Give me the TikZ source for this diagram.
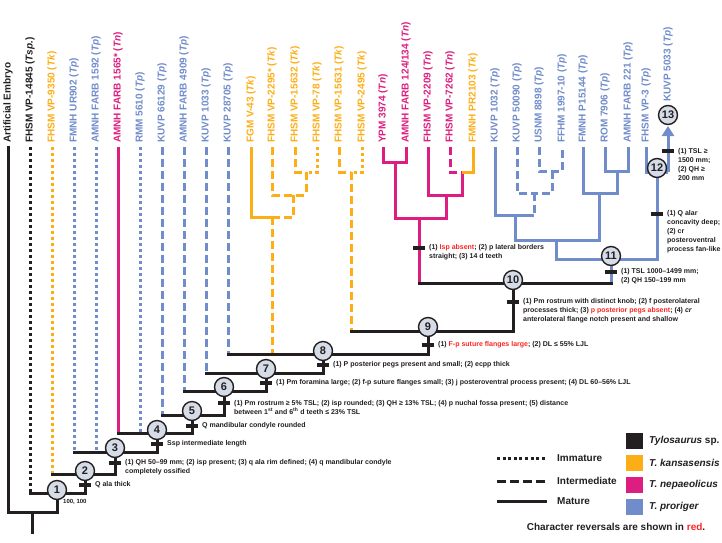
\documentclass[tikz,border=0pt]{standalone}
\usepackage{fontspec}
\setmainfont{Liberation Sans}
\usetikzlibrary{arrows.meta}
\definecolor{tyl}{RGB}{35,31,32}
\definecolor{tk}{RGB}{253,174,23}
\definecolor{tn}{RGB}{221,29,127}
\definecolor{tp}{RGB}{112,140,203}
\definecolor{nfill}{RGB}{213,219,231}
\definecolor{rv}{RGB}{255,35,35}
\begin{document}
\begin{tikzpicture}[x=1pt,y=-1pt,
  br/.style={line width=3pt},
  bb/.style={br,draw=tyl,line cap=rect},
  dotl/.style={dash pattern=on 3pt off 3pt},
  dashl/.style={dash pattern=on 8pt off 4pt},
  cn/.style={circle,draw=tyl,line width=1.4pt,fill=nfill,minimum size=19pt,inner sep=0pt,text=tyl,font=\bfseries\fontsize{11}{11}\selectfont},
  tickbar/.style={fill=tyl,minimum width=12pt,minimum height=4.5pt,inner sep=0pt},
  tax/.style={rotate=90,anchor=west,inner sep=0pt,font=\bfseries\fontsize{10}{12}\selectfont},
  ann/.style={anchor=west,align=left,inner sep=0pt,text=tyl,font=\bfseries\fontsize{7}{9}\selectfont},
  leg/.style={anchor=west,inner sep=0pt,text=tyl,font=\bfseries\fontsize{10}{12}\selectfont},
  swatch/.style={minimum width=17pt,minimum height=16pt,inner sep=0pt}]
\useasboundingbox[fill=white] (0,0) rectangle (722,542);

% tip coordinates
\foreach \i/\x in {0/8,1/30,2/52,3/74,4/96,5/118,6/140,7/162,8/184,9/206,10/228,
  11/251,12/272,13/295,14/317,15/339,16/362,17/383,18/406,19/428,20/450,21/473,
  22/495,23/517,24/539,25/562,26/583,27/605,28/628,29/646,30/668}
  \coordinate (t\i) at (\x,147);

% junctions of the backbone
\coordinate (h0) at (32,512);
\coordinate (rb) at (32,532);
\coordinate (h1) at (57,493);
\coordinate (h2) at (85,474);
\coordinate (h3) at (115,452);
\coordinate (h4) at (157,433);
\coordinate (h5) at (192,415);
\coordinate (h6) at (224,391);
\coordinate (h7) at (266,373);
\coordinate (h8) at (323,354);
\coordinate (h9) at (428,331);
\coordinate (h10) at (513,283);
\coordinate (h11) at (611,259);
\coordinate (h12) at (657,172);
% clade junctions
\coordinate (a1) at (306,172);
\coordinate (a2) at (293,195);
\coordinate (a3) at (272,217);
\coordinate (b1) at (351,172);
\coordinate (m1) at (395,162);
\coordinate (m2) at (462,172);
\coordinate (m3) at (446,195);
\coordinate (m4) at (419,218);
\coordinate (p1) at (552,171);
\coordinate (p2) at (534,193);
\coordinate (p3) at (515,215);
\coordinate (p4) at (617,171);
\coordinate (p5) at (599,193);
\coordinate (p6) at (556,240);
\coordinate (ar) at (668,126);

% taxon branches
\draw[br,tyl,dotl] (t1) -- (t1 |- h1);
\draw[br,tk,dotl] (t2) -- (t2 |- h2);
\draw[br,tp,dotl] (t3) -- (t3 |- h3);
\draw[br,tp,dotl] (t4) -- (t4 |- h3);
\draw[br,tn] (t5) -- (t5 |- h4);
\draw[br,tp,dotl] (t6) -- (t6 |- h4);
\draw[br,tp,dashl] (t7) -- (t7 |- h5);
\draw[br,tp,dashl] (t8) -- (t8 |- h6);
\draw[br,tp,dashl] (t9) -- (t9 |- h7);
\draw[br,tp,dashl] (t10) -- (t10 |- h8);

% T. kansasensis clade A
\draw[br,tk,dashl] (t13) |- (a1);
\draw[br,tk,dotl] (t14) |- (a1);
\draw[br,tk,dashl] (a1) -- (a1 |- a2);
\draw[br,tk,dashl] (t12) |- (a1 |- a2);
\draw[br,tk,dashl] (a2) -- (a2 |- a3);
\draw[br,tk] (t11) |- (a3);
\draw[br,tk,dashl] (a3) -- (a2 |- a3);
\draw[br,tk,dashl] (a3) -- (a3 |- h8);
% T. kansasensis clade B
\draw[br,tk,dashl] (t15) |- (b1);
\draw[br,tk,dotl] (t16) |- (b1);
\draw[br,tk,dashl] (b1) -- (b1 |- h9);

% T. nepaeolicus clade
\draw[br,tn] (t17) |- (m1) -| (t18);
\draw[br,tn] (m1) |- (m4) -| (m3);
\draw[br,tn] (t19) |- (m2 |- m3) -- (m2);
\draw[br,tn,dashl] (t20) |- (m2);
\draw[br,tk] (t21) |- (m2);
\draw[br,tn] (m4) -- (m4 |- h10);

% T. proriger clade
\draw[br,tp,dashl] (t24) |- (p1) -| (t25);
\draw[br,tp,dashl] (p1) |- (p2);
\draw[br,tp,dashl] (t23) |- (p2);
\draw[br,tp,dashl] (p2) -- (p2 |- p3);
\draw[br,tp] (t22) |- (p2 |- p3);
\draw[br,tp] (p3) |- (p6) -| (p5);
\draw[br,tp] (t26) |- (p4 |- p5) -- (p4);
\draw[br,tp] (t27) |- (p4) -| (t28);
\draw[br,tp] (p6) |- (h11) -| (h12);
\draw[br,tp] (h11 |- h10) -- (h11);
\draw[br,tp] (t29) |- (h12) -- (t30 |- h12);
\draw[br,tp,-{Triangle[width=12pt,length=10pt]}] (t30 |- h12) -- (ar);

% backbone
\draw[bb] (rb) -- (h0);
\draw[bb] (t0) |- (h0) -| (h1);
\draw[bb] (t1 |- h1) -| (h2);
\draw[bb] (t2 |- h2) -| (h3);
\draw[bb] (t3 |- h3) -| (h4);
\draw[bb] (t5 |- h4) -| (h5);
\draw[bb] (t7 |- h5) -| (h6);
\draw[bb] (t8 |- h6) -| (h7);
\draw[bb] (t9 |- h7) -| (h8);
\draw[bb] (t10 |- h8) -| (h9);
\draw[bb] (b1 |- h9) -| (h10);
\draw[bb] (m4 |- h10) -- (h11 |- h10);

% character ticks
\node[tickbar] (k1) at (85,485) {};
\node[tickbar] (k2) at (115,463) {};
\node[tickbar] (k3) at (157,444) {};
\node[tickbar] (k4) at (192,426) {};
\node[tickbar] (k5) at (224,403) {};
\node[tickbar] (k6) at (266,383) {};
\node[tickbar] (k7) at (323,365) {};
\node[tickbar] (k8) at (428,345) {};
\node[tickbar] (k9) at (513,302) {};
\node[tickbar] (kn) at (419,248) {};
\node[tickbar] (k10) at (611,272) {};
\node[tickbar] (k11) at (657,214) {};
\node[tickbar] (k12) at (668,151) {};

% numbered nodes
\node[cn] (n1) at (57,490) {1};
\node[cn] (n2) at (85,471) {2};
\node[cn] (n3) at (115,448) {3};
\node[cn] (n4) at (157,430) {4};
\node[cn] (n5) at (192,411) {5};
\node[cn] (n6) at (224,387) {6};
\node[cn] (n7) at (266,369) {7};
\node[cn] (n8) at (323,351) {8};
\node[cn] (n9) at (428,327) {9};
\node[cn] (n10) at (513,280) {10};
\node[cn] (n11) at (611,256) {11};
\node[cn] (n12) at (657,168) {12};
\node[cn] (n13) at (668,115) {13};
\node[anchor=west,inner sep=0pt,text=tyl,font=\bfseries\fontsize{6}{7}\selectfont] (bs1) at (63,502) {100, 100};

% annotations
\node[ann] (c1) at (95,485) {Q ala thick};
\node[ann] (c2) at (125,467.5) {(1) QH 50–99 mm; (2) isp present; (3) q ala rim defined; (4) q mandibular condyle\\completely ossified};
\node[ann] (c3) at (167,444) {Ssp intermediate length};
\node[ann] (c4) at (202,426) {Q mandibular condyle rounded};
\node[ann] (c5) at (234,407.5) {(1) Pm rostrum ≥ 5\% TSL; (2) isp rounded; (3) QH ≥ 13\% TSL; (4) p nuchal fossa present; (5) distance\\between 1\textsuperscript{st} and 6\textsuperscript{th} d teeth ≤ 23\% TSL};
\node[ann] (c6) at (276,383) {(1) Pm foramina large; (2) f-p suture flanges small; (3) j posteroventral process present; (4) DL 60–56\% LJL};
\node[ann] (c7) at (333,365) {(1) P posterior pegs present and small; (2) ecpp thick};
\node[ann] (c8) at (438,345) {(1) \textcolor{rv}{F-p suture flanges large}; (2) DL ≤ 55\% LJL};
\node[ann] (c9) at (523,311) {(1) Pm rostrum with distinct knob; (2) f posterolateral\\processes thick; (3) \textcolor{rv}{p posterior pegs absent}; (4) \textit{cr}\\anterolateral flange notch present and shallow};
\node[ann] (cn) at (429,252.5) {(1) \textcolor{rv}{Isp absent}; (2) p lateral borders\\straight; (3) 14 d teeth};
\node[ann] (c10) at (621,276.5) {(1) TSL 1000–1499 mm;\\(2) QH 150–199 mm};
\node[ann] (c11) at (667,232) {(1) Q alar\\concavity deep;\\(2) cr\\posteroventral\\process fan-like};
\node[ann] (c12) at (678,164.5) {(1) TSL ≥\\1500 mm;\\(2) QH ≥\\200 mm};

% taxon labels
\node[tax,text=tyl] (l0) at (8,143) {Artificial Embryo};
\node[tax,text=tyl] (l1) at (30,143) {FHSM VP-14845 (\textit{Tsp.})};
\node[tax,text=tk] (l2) at (52,143) {FHSM VP-9350 (\textit{Tk})};
\node[tax,text=tp] (l3) at (74,143) {FMNH UR902 (\textit{Tp})};
\node[tax,text=tp] (l4) at (96,143) {AMNH FARB 1592 (\textit{Tp})};
\node[tax,text=tn] (l5) at (118,143) {AMNH FARB 1565* (\textit{Tn})};
\node[tax,text=tp] (l6) at (140,143) {RMM 5610 (\textit{Tp})};
\node[tax,text=tp] (l7) at (162,143) {KUVP 66129 (\textit{Tp})};
\node[tax,text=tp] (l8) at (184,143) {AMNH FARB 4909 (\textit{Tp})};
\node[tax,text=tp] (l9) at (206,143) {KUVP 1033 (\textit{Tp})};
\node[tax,text=tp] (l10) at (228,143) {KUVP 28705 (\textit{Tp})};
\node[tax,text=tk] (l11) at (251,143) {FGM V-43 (\textit{Tk})};
\node[tax,text=tk] (l12) at (272,143) {FHSM VP-2295* (\textit{Tk})};
\node[tax,text=tk] (l13) at (295,143) {FHSM VP-15632 (\textit{Tk})};
\node[tax,text=tk] (l14) at (317,143) {FHSM VP-78 (\textit{Tk})};
\node[tax,text=tk] (l15) at (339,143) {FHSM VP-15631 (\textit{Tk})};
\node[tax,text=tk] (l16) at (362,143) {FHSM VP-2495 (\textit{Tk})};
\node[tax,text=tn] (l17) at (383,143) {YPM 3974 (\textit{Tn})};
\node[tax,text=tn] (l18) at (406,143) {AMNH FARB 124/134 (\textit{Tn})};
\node[tax,text=tn] (l19) at (428,143) {FHSM VP-2209 (\textit{Tn})};
\node[tax,text=tn] (l20) at (450,143) {FHSM VP-7262 (\textit{Tn})};
\node[tax,text=tk] (l21) at (473,143) {FMNH PR2103 (\textit{Tk})};
\node[tax,text=tp] (l22) at (495,143) {KUVP 1032 (\textit{Tp})};
\node[tax,text=tp] (l23) at (517,143) {KUVP 50090 (\textit{Tp})};
\node[tax,text=tp] (l24) at (539,143) {USNM 8898 (\textit{Tp})};
\node[tax,text=tp] (l25) at (562,143) {FFHM 1997-10 (\textit{Tp})};
\node[tax,text=tp] (l26) at (583,143) {FMNH P15144 (\textit{Tp})};
\node[tax,text=tp] (l27) at (605,143) {ROM 7906 (\textit{Tp})};
\node[tax,text=tp] (l28) at (628,143) {AMNH FARB 221 (\textit{Tp})};
\node[tax,text=tp] (l29) at (646,143) {FHSM VP-3 (\textit{Tp})};
\node[tax,text=tp] (l30) at (668,102) {KUVP 5033 (\textit{Tp})};

% legend
\coordinate (g1a) at (497,458); \coordinate (g1b) at (547,458);
\coordinate (g2a) at (497,481); \coordinate (g2b) at (547,481);
\coordinate (g3a) at (497,501); \coordinate (g3b) at (547,501);
\draw[br,tyl,dash pattern=on 3pt off 2.6pt] (g1a) -- (g1b);
\draw[br,tyl,dash pattern=on 9pt off 4pt] (g2a) -- (g2b);
\draw[br,tyl] (g3a) -- (g3b);
\node[leg] (gl1) at (557,458) {Immature};
\node[leg] (gl2) at (557,481) {Intermediate};
\node[leg] (gl3) at (557,501) {Mature};
\node[swatch,fill=tyl] (s1) at (634.5,441) {};
\node[swatch,fill=tk] (s2) at (634.5,463) {};
\node[swatch,fill=tn] (s3) at (634.5,485) {};
\node[swatch,fill=tp] (s4) at (634.5,507) {};
\node[leg] (sl1) at (649,441) {\textit{Tylosaurus} sp.};
\node[leg] (sl2) at (649,463) {\textit{T. kansasensis}};
\node[leg] (sl3) at (649,485) {\textit{T. nepaeolicus}};
\node[leg] (sl4) at (649,507) {\textit{T. proriger}};
\node[leg,anchor=center] (note) at (616,527) {Character reversals are shown in \textcolor{rv}{red}.};
\end{tikzpicture}
\end{document}
